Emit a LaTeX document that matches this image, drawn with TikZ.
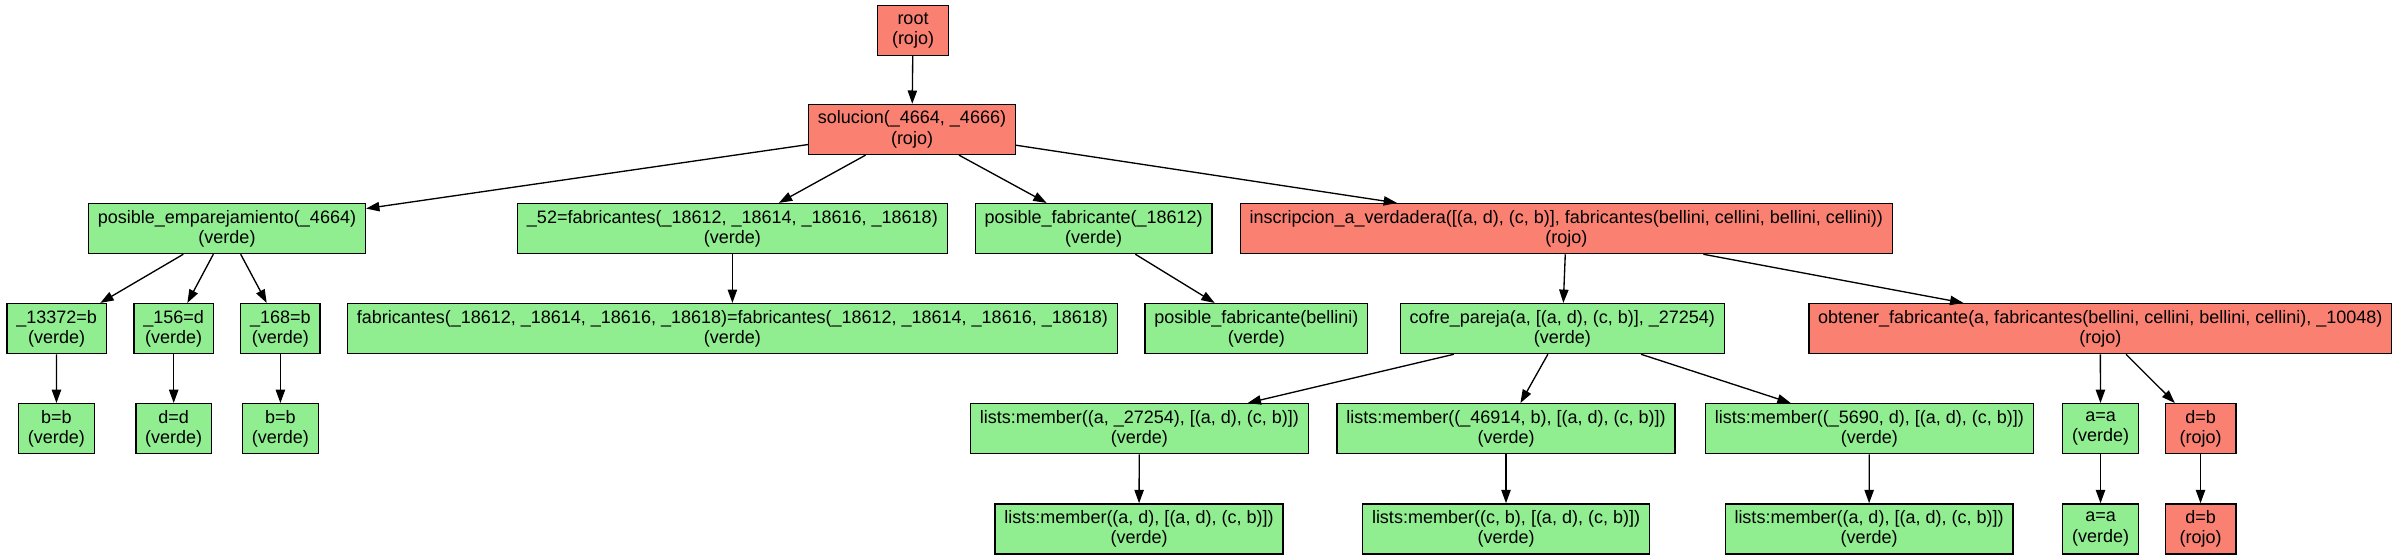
\documentclass[tikz,border=0pt]{standalone}
\usepackage{fontspec}
\setmainfont{Liberation Sans}
\usetikzlibrary{
    arrows.meta,   % Required for the Triangle arrowheads
    positioning
}

\definecolor{verdeclaro}{HTML}{90EE90}
\definecolor{salmon}{HTML}{FA8072}

\begin{document}
\begin{tikzpicture}[
        x=0.75pt, y=-0.75pt,
        >={Triangle[length=10pt,width=7pt]},
        line width=1pt,
        % Styles
        caja/.style={rectangle, draw=black, line width=1pt, align=center,
            inner xsep=7pt, inner ysep=0pt, minimum height=37.5pt,
            minimum width=53pt,
            font=\fontsize{13.5}{15.3}\selectfont},
        verde/.style={caja, fill=verdeclaro},
        rojo/.style={caja, fill=salmon},
        paso/.style={->, black}
    ]

    \useasboundingbox (0,0) rectangle (2398,555);

    % --- Nivel 0 y 1 ---
    \node[rojo] (root) at (913,30.5) {root\\(rojo)};
    \node[rojo] (sol) at (912,129.5) {solucion(\_4664, \_4666)\\(rojo)};

    % --- Nivel 2 ---
    \node[verde] (pe) at (227,228.6) {posible\_emparejamiento(\_4664)\\(verde)};
    \node[verde] (f52) at (732.4,228.6) {\_52=fabricantes(\_18612, \_18614, \_18616, \_18618)\\(verde)};
    \node[verde] (pf) at (1093.6,228.6) {posible\_fabricante(\_18612)\\(verde)};
    \node[rojo] (iav) at (1566.3,228.6) {inscripcion\_a\_verdadera([(a, d), (c, b)], fabricantes(bellini, cellini, bellini, cellini))\\(rojo)};

    % --- Nivel 3 ---
    \node[verde] (u13372) at (56.6,328.6) {\_13372=b\\(verde)};
    \node[verde] (u156) at (173.7,328.6) {\_156=d\\(verde)};
    \node[verde] (u168) at (280.4,328.6) {\_168=b\\(verde)};
    \node[verde] (feq) at (732.4,328.6) {fabricantes(\_18612, \_18614, \_18616, \_18618)=fabricantes(\_18612, \_18614, \_18616, \_18618)\\(verde)};
    \node[verde] (pfb) at (1256.4,328.6) {posible\_fabricante(bellini)\\(verde)};
    \node[verde] (cofre) at (1562.3,328.6) {cofre\_pareja(a, [(a, d), (c, b)], \_27254)\\(verde)};
    \node[rojo] (obt) at (2100.3,328.6) {obtener\_fabricante(a, fabricantes(bellini, cellini, bellini, cellini), \_10048)\\(rojo)};

    % --- Nivel 4 ---
    \node[verde] (bb1) at (56.4,428.7) {b=b\\(verde)};
    \node[verde] (dd) at (173.7,428.7) {d=d\\(verde)};
    \node[verde] (bb2) at (280.4,428.7) {b=b\\(verde)};
    \node[verde] (lm1) at (1139.3,428.7) {lists:member((a, \_27254), [(a, d), (c, b)])\\(verde)};
    \node[verde] (lm2) at (1506,428.7) {lists:member((\_46914, b), [(a, d), (c, b)])\\(verde)};
    \node[verde] (lm3) at (1869.4,428.7) {lists:member((\_5690, d), [(a, d), (c, b)])\\(verde)};
    \node[verde] (aa1) at (2100.5,428.7) {a=a\\(verde)};
    \node[rojo] (db1) at (2200.5,428.7) {d=b\\(rojo)};

    % --- Nivel 5 ---
    \node[verde] (lm1b) at (1139,528.9) {lists:member((a, d), [(a, d), (c, b)])\\(verde)};
    \node[verde] (lm2b) at (1506,528.9) {lists:member((c, b), [(a, d), (c, b)])\\(verde)};
    \node[verde] (lm3b) at (1869,528.9) {lists:member((a, d), [(a, d), (c, b)])\\(verde)};
    \node[verde] (aa2) at (2100.5,528.9) {a=a\\(verde)};
    \node[rojo] (db2) at (2200.5,528.9) {d=b\\(rojo)};

    % --- Aristas ---
    \draw[paso] (root) -- (sol);
    \foreach \hijo in {pe, f52, pf, iav}
        \draw[paso] (sol) -- (\hijo);
    \foreach \hijo in {u13372, u156, u168}
        \draw[paso] (pe) -- (\hijo);
    \draw[paso] (u13372) -- (bb1);
    \draw[paso] (u156) -- (dd);
    \draw[paso] (u168) -- (bb2);
    \draw[paso] (f52) -- (feq);
    \draw[paso] (pf) -- (pfb);
    \draw[paso] (iav) -- (cofre);
    \draw[paso] (iav) -- (obt);
    \foreach \hijo in {lm1, lm2, lm3}
        \draw[paso] (cofre) -- (\hijo);
    \draw[paso] (lm1) -- (lm1b);
    \draw[paso] (lm2) -- (lm2b);
    \draw[paso] (lm3) -- (lm3b);
    \draw[paso] (obt) -- (aa1);
    \draw[paso] (obt) -- (db1);
    \draw[paso] (aa1) -- (aa2);
    \draw[paso] (db1) -- (db2);

\end{tikzpicture}
\end{document}
